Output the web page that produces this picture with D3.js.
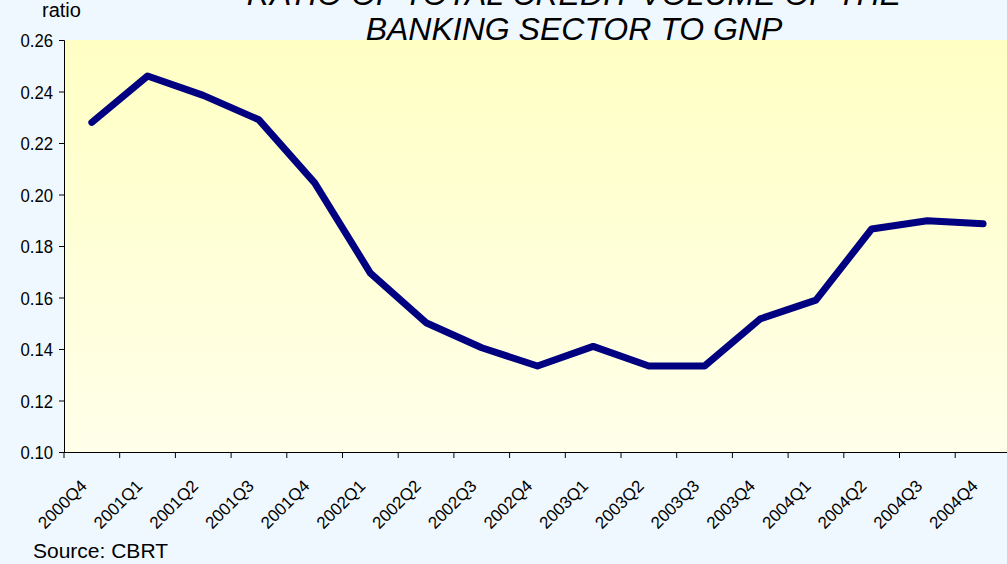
<!DOCTYPE html>
<html>
<head>
<meta charset="utf-8">
<script src="https://cdn.jsdelivr.net/npm/d3@7"></script>
<style>
  body { margin: 0; background: #f0f8ff; }
  svg { display: block; font-family: "Liberation Sans", Arial, sans-serif; }
</style>
</head>
<body>
<svg width="1007" height="564"></svg>
<script>
// quarters and credit/GNP ratio
const quarters = ["2000Q4", "2001Q1", "2001Q2", "2001Q3", "2001Q4", "2002Q1", "2002Q2", "2002Q3",
    "2002Q4", "2003Q1", "2003Q2", "2003Q3", "2003Q4", "2004Q1", "2004Q2", "2004Q3", "2004Q4"];
const ratio = [0.228, 0.246, 0.2385, 0.229, 0.2045, 0.1695, 0.1502, 0.1405,
    0.1334, 0.141, 0.1334, 0.1334, 0.1517, 0.159, 0.1866, 0.1898, 0.1886];
const yTicks = [0.10, 0.12, 0.14, 0.16, 0.18, 0.20, 0.22, 0.24, 0.26];

const svg = d3.select("svg"),
    plotLeft = 64, plotTop = 40, plotBottom = 452, plotRight = 64 + 17 * 55.7;

const x = d3.scaleBand().domain(quarters).range([plotLeft, plotRight]);
const y = d3.scaleLinear().domain([0.10, 0.26]).range([plotBottom, plotTop]);

// plot background gradient
const grad = svg.append("defs").append("linearGradient")
    .attr("id", "bg").attr("x1", 0).attr("y1", 0).attr("x2", 0).attr("y2", 1);
grad.append("stop").attr("offset", "0%").attr("stop-color", "#ffffc4");
grad.append("stop").attr("offset", "100%").attr("stop-color", "#ffffea");

svg.append("rect")
    .attr("x", plotLeft).attr("y", plotTop)
    .attr("width", plotRight - plotLeft).attr("height", plotBottom - plotTop)
    .attr("fill", "url(#bg)");

// title (first line runs off the top, as in the original)
const title = svg.append("text")
    .attr("text-anchor", "middle")
    .attr("font-size", 32)
    .attr("font-style", "italic")
    .attr("fill", "#000");
title.append("tspan").attr("x", 574).attr("y", 5).text("RATIO OF TOTAL CREDIT VOLUME OF THE");
title.append("tspan").attr("x", 574).attr("y", 40).text("BANKING SECTOR TO GNP");

// y axis
const yAxis = svg.append("g")
    .attr("transform", `translate(${plotLeft},0)`)
    .call(d3.axisLeft(y).tickValues(yTicks).tickFormat(d3.format(".2f")).tickSize(5).tickPadding(6));
yAxis.attr("font-family", null).attr("font-size", null);
// narrower, taller digits like the original
yAxis.selectAll(".tick text")
    .attr("font-size", 19).attr("fill", "#000").attr("dy", "0.35em")
    .attr("x", -11 / 0.88)
    .attr("transform", "scale(0.88,1)");

// x axis: ticks on band edges
const xAxis = svg.append("g")
    .attr("transform", `translate(0,${plotBottom})`)
    .call(d3.axisBottom(x).tickSize(0).tickFormat(""));
xAxis.attr("font-family", null).attr("font-size", null);
xAxis.selectAll(".tick").remove();
xAxis.selectAll("line.edge")
    .data(quarters)
    .enter().append("line")
    .attr("x1", d => x(d)).attr("x2", d => x(d))
    .attr("y1", 0).attr("y2", 6)
    .attr("stroke", "#000");
xAxis.selectAll("text.lbl")
    .data(quarters)
    .enter().append("text")
    .attr("class", "lbl")
    .attr("text-anchor", "end")
    .attr("font-size", 17)
    .attr("fill", "#000")
    .attr("transform", d => `translate(${x(d) + x.bandwidth() / 2 - 4},35) rotate(-45)`)
    .text(d => d);
svg.selectAll(".domain").attr("stroke", "#000");

// axis caption
svg.append("text").attr("x", 42).attr("y", 17).attr("font-size", 20).text("ratio");

// line
const line = d3.line()
    .x((d, i) => x(quarters[i]) + x.bandwidth() / 2)
    .y(d => y(d));
svg.append("path")
    .datum(ratio)
    .attr("d", line)
    .attr("fill", "none")
    .attr("stroke", "#000080")
    .attr("stroke-width", 7)
    .attr("stroke-linejoin", "round")
    .attr("stroke-linecap", "round");

// source
svg.append("text").attr("x", 33).attr("y", 558).attr("font-size", 21).text("Source: CBRT");
</script>
</body>
</html>
